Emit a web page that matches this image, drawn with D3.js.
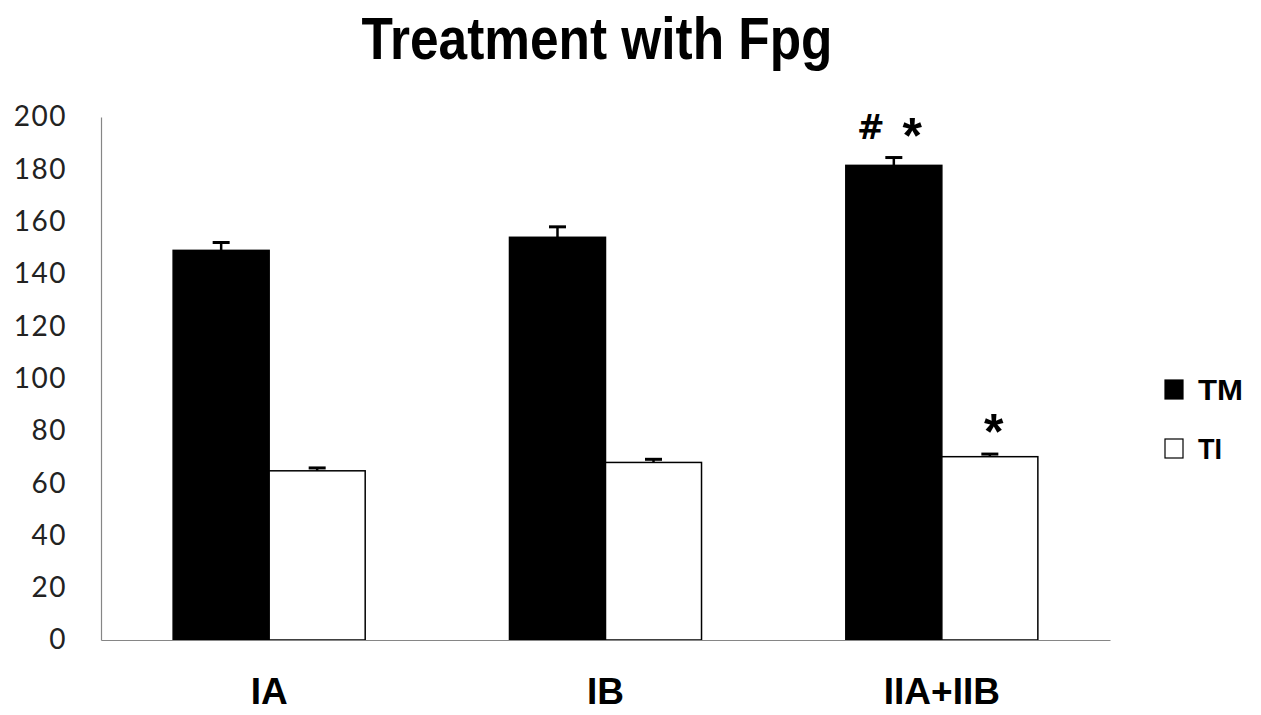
<!DOCTYPE html>
<html>
<head>
<meta charset="utf-8">
<script src="https://cdn.jsdelivr.net/npm/d3@7"></script>
<style>
  html, body { margin: 0; padding: 0; background: #fff; }
  svg { display: block; }
</style>
</head>
<body>
<svg id="chart" width="1261" height="715"></svg>
<script>
const title = "Treatment with Fpg";
const categories = ["IA", "IB", "IIA+IIB"];
const seriesNames = ["TM", "TI"];
const tmValues = [149, 154, 181.5];
const tmErrors = [3, 4, 3];
const tiValues = [64.7, 67.9, 70.1];
const tiErrors = [1.1, 1.2, 1.0];
const yTicks = [0, 20, 40, 60, 80, 100, 120, 140, 160, 180, 200];
const annotations = [
  { category: "IIA+IIB", series: "TM", marks: ["#", "*"] },
  { category: "IIA+IIB", series: "TI", marks: ["*"] }
];

const svg = d3.select("#chart");
const W = 1261, H = 715;
const x0 = 101, x1 = 1110;
const yBase = 640, yTop = 117;

const x = d3.scaleBand().domain(categories).range([x0, x1]).paddingInner(0.429).paddingOuter(0.2145);
const xs = d3.scaleBand().domain(seriesNames).range([0, x.bandwidth()]);
const y = d3.scaleLinear().domain([0, 200]).range([yBase, yTop]);

const rows = [];
categories.forEach((c, i) => {
  rows.push({ category: c, series: "TM", value: tmValues[i], err: tmErrors[i] });
  rows.push({ category: c, series: "TI", value: tiValues[i], err: tiErrors[i] });
});
const fill = { TM: "#000", TI: "#fff" };
const cxOf = d => x(d.category) + xs(d.series) + xs.bandwidth() / 2;

// Title
svg.append("text")
  .attr("x", 597).attr("y", 59)
  .attr("text-anchor", "middle")
  .attr("font-family", "Liberation Sans, Arial, sans-serif")
  .attr("font-weight", "bold")
  .attr("font-size", 59)
  .attr("textLength", 471).attr("lengthAdjust", "spacingAndGlyphs")
  .text(title);

// Y axis (labels only, no ticks)
const yAxis = d3.axisLeft(y).tickValues(yTicks).tickSize(0).tickPadding(34);
const gy = svg.append("g").attr("transform", `translate(${x0},0)`).call(yAxis);
gy.select(".domain").attr("stroke", "#868686").attr("stroke-width", 1.2);
gy.selectAll("text")
  .attr("font-family", "Lato, 'Open Sans', sans-serif")
  .attr("font-size", 28)
  .attr("fill", "#222")
  .attr("letter-spacing", 1.5);

// Bars
svg.append("g").selectAll("rect").data(rows).join("rect")
  .attr("x", d => x(d.category) + xs(d.series))
  .attr("y", d => y(d.value))
  .attr("width", xs.bandwidth())
  .attr("height", d => y(0) - y(d.value))
  .attr("fill", d => fill[d.series])
  .attr("stroke", "#000")
  .attr("stroke-width", 1.5);

// Error bars (upper half)
const eb = svg.append("g").selectAll("g").data(rows).join("g");
eb.append("line")
  .attr("x1", cxOf).attr("x2", cxOf)
  .attr("y1", d => y(d.value))
  .attr("y2", d => y(d.value + d.err))
  .attr("stroke", "#000").attr("stroke-width", 2.5);
eb.append("line")
  .attr("x1", d => cxOf(d) - 8.5)
  .attr("x2", d => cxOf(d) + 8.5)
  .attr("y1", d => y(d.value + d.err))
  .attr("y2", d => y(d.value + d.err))
  .attr("stroke", "#000").attr("stroke-width", 3);

// X axis
const xAxis = d3.axisBottom(x).tickSize(0).tickPadding(38);
const gx = svg.append("g").attr("transform", `translate(0,${yBase})`).call(xAxis);
gx.select(".domain").attr("stroke", "#868686").attr("stroke-width", 1.2);
gx.selectAll("text")
  .attr("font-family", "Liberation Sans, Arial, sans-serif")
  .attr("font-weight", "bold")
  .attr("font-size", 37)
  .attr("fill", "#000");

// Significance annotations
const rowOf = (c, s) => rows.find(r => r.category === c && r.series === s);
annotations.forEach(a => {
  const r = rowOf(a.category, a.series);
  const cx = cxOf(r);
  const capY = y(r.value + r.err);
  const n = a.marks.length;
  a.marks.forEach((m, i) => {
    const off = n === 1 ? 4 : (i === 0 ? -23 : 18.5);
    svg.append("text")
      .attr("x", cx + off)
      .attr("y", m === "#" ? capY - 19 : capY - 5)
      .attr("text-anchor", "middle")
      .attr("font-family", m === "#" ? "DejaVu Sans, sans-serif" : "Liberation Sans, Arial, sans-serif")
      .attr("font-weight", "bold")
      .attr("font-size", m === "#" ? 33 : 50)
      .attr("fill", "#000")
      .text(m);
  });
});

// Legend
const legend = svg.append("g");
const legendY = { TM: 380, TI: 439 };
seriesNames.forEach(s => {
  legend.append("rect")
    .attr("x", 1165).attr("y", legendY[s])
    .attr("width", 18).attr("height", 19)
    .attr("fill", fill[s]).attr("stroke", "#000").attr("stroke-width", 1.2);
  legend.append("text")
    .attr("x", 1198).attr("y", legendY[s] + 20)
    .attr("font-family", "Liberation Sans, Arial, sans-serif")
    .attr("font-weight", "bold")
    .attr("font-size", 29)
    .attr("textLength", s === "TM" ? 45 : 24).attr("lengthAdjust", "spacingAndGlyphs")
    .text(s);
});
</script>
</body>
</html>
